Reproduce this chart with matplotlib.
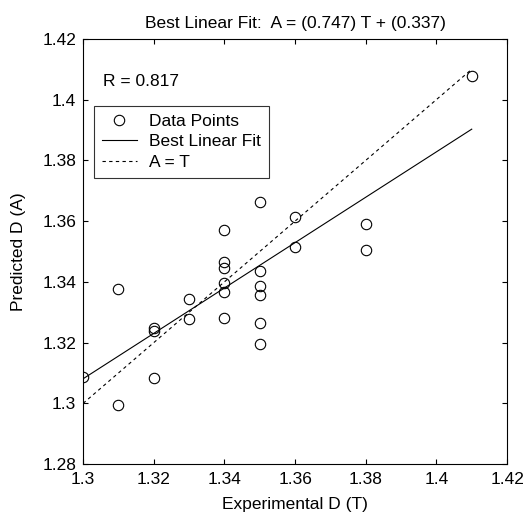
import matplotlib
matplotlib.use("Agg")
import matplotlib.pyplot as plt
import numpy as np

plt.rcParams['font.family'] = ['Liberation Sans', 'DejaVu Sans']

# data
targets = [1.30, 1.31, 1.31, 1.32, 1.32, 1.32, 1.33, 1.33,
           1.34, 1.34, 1.34, 1.34, 1.34, 1.34,
           1.35, 1.35, 1.35, 1.35, 1.35, 1.35,
           1.36, 1.36, 1.38, 1.38, 1.41]
predicted = [1.3086, 1.3376, 1.2995, 1.3247, 1.3238, 1.3082, 1.3343, 1.3277,
             1.3571, 1.3467, 1.3445, 1.3396, 1.3366, 1.3282,
             1.3664, 1.3437, 1.3386, 1.3356, 1.3263, 1.3194,
             1.3613, 1.3514, 1.3590, 1.3505, 1.4079]
slope = 0.747
intercept = 0.337
r_value = 0.817

xticks = [1.3, 1.32, 1.34, 1.36, 1.38, 1.4, 1.42]
xticklabels = ["1.3", "1.32", "1.34", "1.36", "1.38", "1.4", "1.42"]
yticks = [1.28, 1.3, 1.32, 1.34, 1.36, 1.38, 1.4, 1.42]
yticklabels = ["1.28", "1.3", "1.32", "1.34", "1.36", "1.38", "1.4", "1.42"]

fs = 12.5

fig = plt.figure(figsize=(5.26, 5.18), dpi=100)
ax = fig.add_axes([0.158, 0.104, 0.806, 0.821])

t = np.array(targets)
tline = np.array([t.min(), t.max()])

ax.plot(targets, predicted, 'o', mfc='none', mec='black', ms=7.5, mew=0.8,
        label='Data Points')
ax.plot(tline, slope * tline + intercept, '-', color='black', lw=0.8,
        label='Best Linear Fit')
ax.plot(tline, tline, color='black', lw=0.8, dashes=(3, 3), label='A = T')

ax.set_xlim(1.3, 1.42)
ax.set_ylim(1.28, 1.42)
ax.set_xticks(xticks)
ax.set_xticklabels(xticklabels)
ax.set_yticks(yticks)
ax.set_yticklabels(yticklabels)
ax.tick_params(direction='in', top=True, right=True, length=3.5, width=0.8,
               labelsize=fs)
ax.tick_params(axis='x', pad=6)
ax.tick_params(axis='y', pad=5)
for s in ax.spines.values():
    s.set_linewidth(0.8)

ax.set_xlabel('Experimental D (T)', fontsize=fs, labelpad=7)
ax.set_ylabel('Predicted D (A)', fontsize=fs, labelpad=12)
ax.set_title('Best Linear Fit:  A = (%.3f) T + (%.3f)' % (slope, intercept),
             fontsize=fs, pad=8)

ax.text(1.3057, 1.406, 'R = %.3f' % r_value, fontsize=fs, va='center')

leg = ax.legend(loc='upper left', bbox_to_anchor=(0.026, 0.843), fontsize=fs,
                frameon=True, fancybox=False, edgecolor='black',
                borderpad=0.45, labelspacing=0.32, handlelength=2.0,
                handletextpad=0.7, borderaxespad=0)
leg.get_frame().set_linewidth(0.8)

fig.savefig('out.png', dpi=100)
